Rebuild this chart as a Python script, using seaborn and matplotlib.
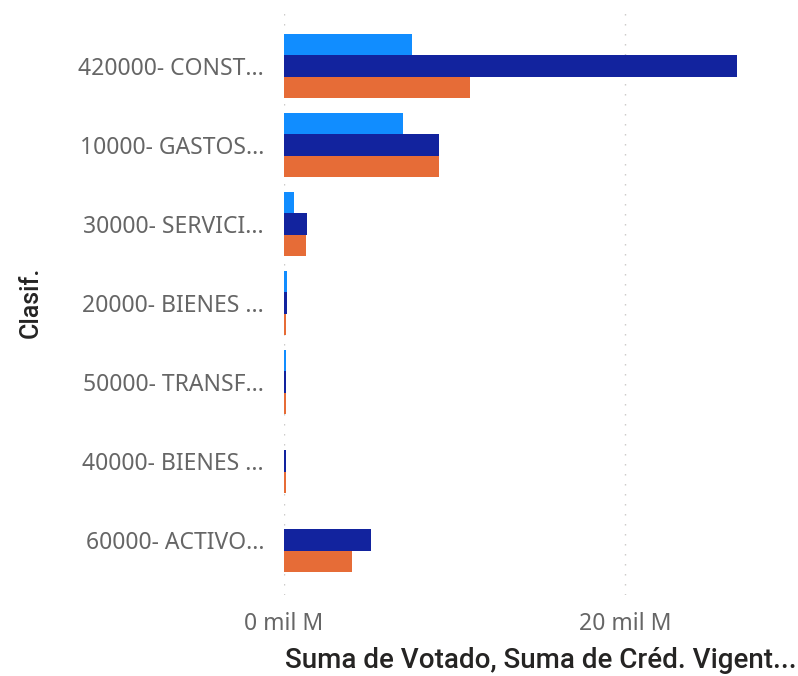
import pandas as pd
import matplotlib.pyplot as plt
import seaborn as sns

# Categories (truncated labels, as in the visual) and values in "mil M"
clasif = ['420000- CONST...', '10000- GASTOS...', '30000- SERVICI...',
          '20000- BIENES ...', '50000- TRANSF...', '40000- BIENES ...',
          '60000- ACTIVO...']
votado = [7.51, 6.98, 0.59, 0.18, 0.12, 0.0, 0.0]
cred_vigente = [26.57, 9.09, 1.33, 0.18, 0.12, 0.12, 5.10]
comprometido = [10.91, 9.09, 1.29, 0.10, 0.10, 0.10, 3.99]

series = ['Suma de Votado', 'Suma de Créd. Vigente', 'Suma de Comprometido']
colors = ['#118DFF', '#12239E', '#E66C37']

df = pd.DataFrame({
    'Clasif.': clasif * 3,
    'serie': [series[0]] * 7 + [series[1]] * 7 + [series[2]] * 7,
    'valor': votado + cred_vigente + comprometido,
})

sns.set_style('white')
plt.rcParams['font.family'] = ['Noto Sans', 'DejaVu Sans']

fig = plt.figure(figsize=(7.98, 6.76), dpi=100)
ax = fig.add_axes([284 / 798, 1 - 595 / 676, (770 - 284) / 798, (595 - 8) / 676])

sns.barplot(data=df, x='valor', y='Clasif.', hue='serie', hue_order=series,
            palette=colors, orient='h', width=0.8, saturation=1,
            linewidth=0, edgecolor='none', legend=False, ax=ax)

ax.set_xlim(0, 28.5)
ax.set_ylim(6.696, -0.734)
ax.set_xticks([0, 20])
ax.set_xticklabels(['0 mil M', '20 mil M'])
for x in [0, 20]:
    ax.axvline(x, color='#C8C6C4', lw=1.0, ls=(0, (1, 6.2)), zorder=0)

ax.tick_params(axis='y', length=0, pad=14.4, labelsize=16.5, labelcolor='#666666')
ax.tick_params(axis='x', length=0, pad=12, labelsize=16.5, labelcolor='#666666')
for s in ax.spines.values():
    s.set_visible(False)

ax.set_xlabel('')
ax.set_ylabel('')
fig.text(285 / 798, 1 - 668 / 676, 'Suma de Votado, Suma de Créd. Vigent...',
         ha='left', va='baseline', fontsize=20, color='#252423',
         family=['Roboto', 'DejaVu Sans'], fontweight='medium')
fig.text(31 / 798, 1 - 302 / 676, 'Clasif.', rotation=90,
         ha='center', va='center', fontsize=18, color='#252423',
         family=['Roboto', 'DejaVu Sans'], fontweight='medium')

fig.savefig('out.png', dpi=100)
